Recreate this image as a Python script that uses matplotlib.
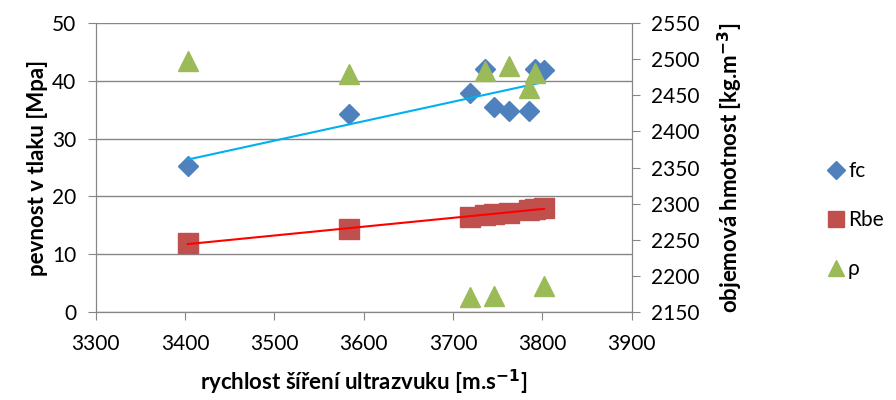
import numpy as np
import matplotlib.pyplot as plt
from matplotlib.lines import Line2D

plt.rcParams['font.family'] = ['Lato', 'DejaVu Sans']

# rychlost sireni ultrazvuku [m/s]
speed = [3403, 3584, 3719, 3736, 3746, 3763, 3785, 3792, 3802]
# pevnost v tlaku fc [MPa]
fc = [25.3, 34.3, 37.9, 42.0, 35.5, 34.8, 34.7, 42.0, 41.9]
# Rbe [MPa]
rbe = [11.9, 14.3, 16.5, 16.8, 17.0, 17.2, 17.6, 17.8, 18.0]
# objemova hmotnost rho [kg/m3]
rho = [2498, 2480, 2171, 2484, 2172, 2491, 2460, 2481, 2186]

x_ticks = [3300, 3400, 3500, 3600, 3700, 3800, 3900]
y_ticks = [0, 10, 20, 30, 40, 50]
y2_ticks = [2150, 2200, 2250, 2300, 2350, 2400, 2450, 2500, 2550]

c_fc = '#4F81BD'
c_rbe = '#C0504D'
c_rho = '#9BBB59'
grey = '#868686'

fig = plt.figure(figsize=(8.96, 4), dpi=100)
ax = fig.add_axes([0.107, 0.22, 0.598, 0.7225])
ax2 = ax.twinx()

ax.set_xlim(3300, 3900)
ax.set_ylim(0, 50)
ax2.set_ylim(2150, 2550)
ax.set_xticks(x_ticks)
ax.set_yticks(y_ticks)
ax2.set_yticks(y2_ticks)

ax.grid(axis='y', color=grey, linewidth=1)
ax.set_axisbelow(True)
for a in (ax, ax2):
    for s in a.spines.values():
        s.set_color(grey)
    a.spines['top'].set_visible(False)
    a.tick_params(colors=grey, labelcolor='black', labelsize=15, length=6,
                  pad=8)
ax.tick_params(axis='x', pad=10)

# trend lines
xs = np.array([min(speed), max(speed)])
p1 = np.polyfit(speed, fc, 1)
p2 = np.polyfit(speed, rbe, 1)

ax.plot(speed, fc, 'D', color=c_fc, markersize=10, zorder=3)
ax.plot(speed, rbe, 's', color=c_rbe, markersize=14, zorder=3)
ax.plot(xs, np.polyval(p1, xs), color='#00B0F0', linewidth=1.5, zorder=4)
ax.plot(xs, np.polyval(p2, xs), color='#FF0000', linewidth=1.5, zorder=4)
ax2.plot(speed, rho, '^', color=c_rho, markersize=14, zorder=3)

ax.set_xlabel('rychlost šíření ultrazvuku [m.s$^{\\mathbf{-1}}$]', fontsize=16,
              fontweight='bold', labelpad=10)
ax.set_ylabel('pevnost v tlaku [Mpa]', fontsize=16, fontweight='bold', labelpad=3)
ax2.set_ylabel('objemová hmotnost [kg.m$^{\\mathbf{-3}}$]', fontsize=16,
               fontweight='bold', labelpad=12)

handles = [
    Line2D([], [], marker='D', color=c_fc, linestyle='none', markersize=9),
    Line2D([], [], marker='s', color=c_rbe, linestyle='none', markersize=12),
    Line2D([], [], marker='^', color=c_rho, linestyle='none', markersize=12),
]
fig.legend(handles, ['fc', 'Rbe', 'ρ'], loc='center left',
           bbox_to_anchor=(0.9, 0.45), frameon=False, fontsize=15,
           handletextpad=0.1, labelspacing=1.4, handlelength=1.0)

fig.savefig('out.png', dpi=100)
